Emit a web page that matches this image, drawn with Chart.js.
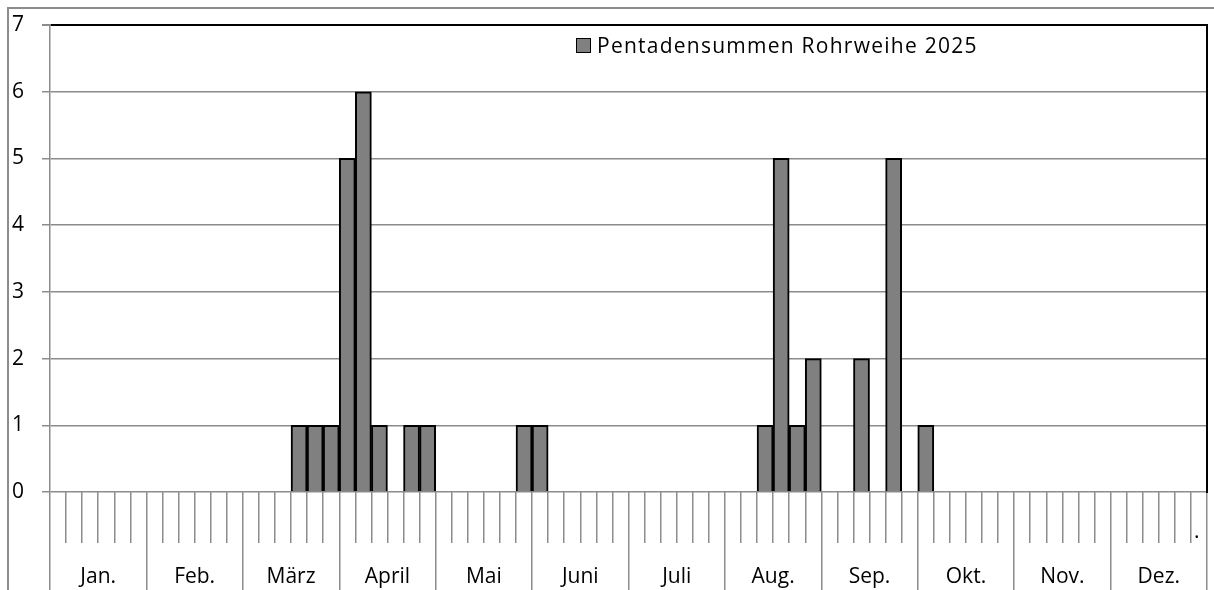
<!DOCTYPE html>
<html>
<head>
<meta charset="utf-8">
<script src="https://cdn.jsdelivr.net/npm/chart.js@4.4.1/dist/chart.umd.min.js"></script>
<style>
  html, body { margin: 0; padding: 0; background: #fff; overflow: hidden; }
  #wrap { position: relative; width: 1214px; height: 590px; }
  #frame { position: absolute; left: 7px; top: 7px; width: 1300px; height: 700px;
           border-left: 2px solid #8c8c8c; border-top: 2px solid #8c8c8c; pointer-events: none; }
  #legend { position: absolute; left: 576px; top: 31px; font-family: "Open Sans", sans-serif;
            font-size: 21px; letter-spacing: 1.25px; color: #000; display: flex; align-items: center; }
  #legend .box { width: 13px; height: 13px; background: #808080; border: 1.5px solid #000; margin-right: 6px; }
  #dot { position: absolute; left: 1194px; top: 516px; font-family: "Open Sans", sans-serif; font-size: 21px; }
</style>
</head>
<body>
<div id="wrap">
  <canvas id="chart" width="1214" height="590"></canvas>
  <div id="frame"></div>
  <div id="legend"><span class="box"></span><span id="legend-text"></span></div>
  <div id="dot">.</div>
</div>
<script>
// Pentaden (6 pro Monat, 72 im Jahr)
const months = ["Jan.", "Feb.", "März", "April", "Mai", "Juni", "Juli", "Aug.", "Sep.", "Okt.", "Nov.", "Dez."];
const pentads = months.flatMap(m => [1, 2, 3, 4, 5, 6].map(p => m + " " + p));
const seriesName = "Pentadensummen Rohrweihe 2025";
const values = [
  0, 0, 0, 0, 0, 0,   // Jan.
  0, 0, 0, 0, 0, 0,   // Feb.
  0, 0, 0, 1, 1, 1,   // März
  5, 6, 1, 0, 1, 1,   // April
  0, 0, 0, 0, 0, 1,   // Mai
  1, 0, 0, 0, 0, 0,   // Juni
  0, 0, 0, 0, 0, 0,   // Juli
  0, 0, 1, 5, 1, 2,   // Aug.
  0, 0, 2, 0, 5, 0,   // Sep.
  1, 0, 0, 0, 0, 0,   // Okt.
  0, 0, 0, 0, 0, 0,   // Nov.
  0, 0, 0, 0, 0, 0    // Dez.
];
const yTicks = [0, 1, 2, 3, 4, 5, 6, 7];

const gridGray = "#8c8c8c";
const font = { family: "'Open Sans', sans-serif", size: 21 };

document.getElementById("legend-text").textContent = seriesName;

new Chart(document.getElementById("chart").getContext("2d"), {
  type: "bar",
  data: {
    labels: pentads,
    datasets: [{
      label: seriesName,
      data: values,
      backgroundColor: "#808080",
      borderColor: "#000",
      borderWidth: 2,
      categoryPercentage: 1.0,
      barPercentage: 1.0,
      xAxisID: "x",
      yAxisID: "y"
    }]
  },
  options: {
    responsive: false,
    animation: false,
    layout: { padding: { top: 25, left: 12, right: 7, bottom: 0 } },
    plugins: { legend: { display: false }, tooltip: { enabled: false } },
    scales: {
      x: {
        type: "category",
        position: "bottom",
        offset: true,
        grid: { offset: true, drawOnChartArea: false, tickLength: 51, color: gridGray, lineWidth: 1.5 },
        border: { display: false },
        ticks: { display: false },
        afterFit: s => { s.height = 51; }
      },
      x2: {
        type: "category",
        position: "bottom",
        labels: months,
        offset: true,
        grid: { offset: true, drawOnChartArea: false, tickLength: 47, color: gridGray, lineWidth: 1.5 },
        border: { display: false },
        ticks: { font, color: "#000", padding: -26, maxRotation: 0, autoSkip: false },
        afterFit: s => { s.height = 47; }
      },
      y: {
        min: 0,
        max: 7,
        afterBuildTicks: s => { s.ticks = yTicks.map(v => ({ value: v })); },
        grid: {
          color: c => (c.tick && c.tick.value === 7 ? "#000" : gridGray),
          lineWidth: c => (c.tick && c.tick.value === 7 ? 2 : 1.5),
          tickColor: gridGray,
          tickLength: 8
        },
        border: { color: gridGray, width: 1.5 },
        ticks: { font, color: "#000", padding: 0, crossAlign: "far" },
        afterFit: s => { s.width = 38; }
      },
      y2: {
        position: "right",
        min: 0,
        max: 7,
        grid: { drawOnChartArea: false, drawTicks: false },
        border: { color: "#000", width: 2 },
        ticks: { display: false },
        afterFit: s => { s.width = 0; }
      }
    }
  }
});
</script>
</body>
</html>
